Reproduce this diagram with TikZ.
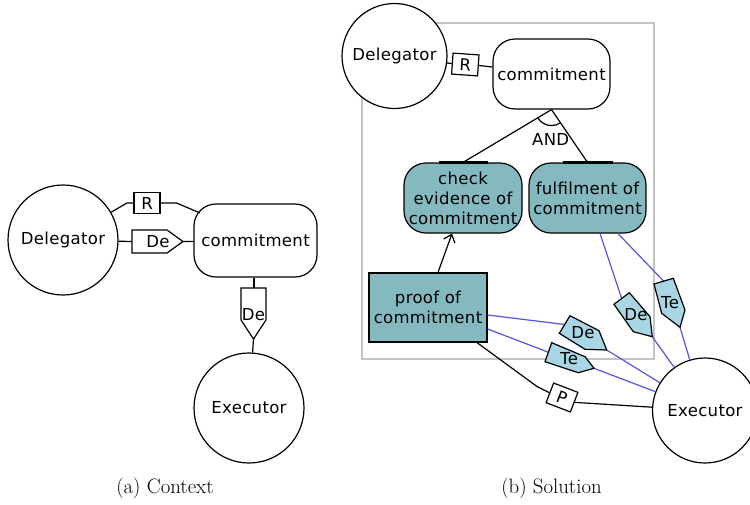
\documentclass[tikz,border=0pt]{standalone}
\usepackage{fontspec}
\newfontfamily\dv[LetterSpace=2]{DejaVu Sans}
\usetikzlibrary{arrows.meta,calc}
\definecolor{tealfill}{RGB}{132,186,191}
\definecolor{pentfill}{RGB}{168,214,228}
\definecolor{bluline}{RGB}{85,85,225}
\definecolor{framegray}{RGB}{195,195,195}
\begin{document}
\begin{tikzpicture}[x=1pt,y=-1pt,
  actor/.style={circle,draw,fill=white,line width=1.2pt,minimum size=110pt,inner sep=0pt,font=\dv\fontsize{16.5}{19}\selectfont},
  actorb/.style={actor,minimum size=105pt},
  goal/.style={rectangle,rounded corners=22pt,draw,fill=white,line width=1.2pt,inner sep=0pt,align=center,font=\dv\fontsize{16.5}{20}\selectfont},
  task/.style={rectangle,draw,fill=tealfill,line width=1.2pt,inner sep=0pt,align=center,font=\dv\fontsize{16.5}{20}\selectfont},
  rbox/.style={rectangle,draw,fill=white,line width=1.2pt,inner sep=0pt,minimum width=26pt,minimum height=21pt,font=\dv\fontsize{16.5}{18}\selectfont},
  lab/.style={inner sep=0pt,font=\dv\fontsize{16.5}{18}\selectfont},
  penta/.style={draw,fill=white,line width=1.2pt},
  pentb/.style={draw,fill=pentfill,line width=1.2pt},
  link/.style={draw,line width=1.2pt},
  blink/.style={draw=bluline,line width=1.2pt},
  captext/.style={inner sep=0pt,font=\fontsize{20.8}{25}\selectfont}
]
\useasboundingbox (0,0) rectangle (750,504);

% ---------------- (a) Context ----------------
\node[actor] (DelA) at (63,240) {Delegator};
\node[goal,minimum width=123pt,minimum height=73pt] (CommA) at (255.5,240.5) {commitment};
\node[actor] (ExA) at (249,408) {Executor};
\node[rbox] (Ra) at (147,203) {R};

\draw[link] (DelA.30) -- (127,203) -- (Ra.west);
\draw[link] (Ra.east) -- (176.5,203) -- ($(CommA.north west)+(6.5,9.5)$);

% horizontal De
\coordinate (DeAin) at (132,241.5);
\coordinate (DeAtip) at (183,241.5);
\draw[link] (DelA) -- (DeAin);
\draw[link] (DeAtip) -- (CommA);
\draw[penta] (132,230) -- (167,230) -- (DeAtip) -- (167,253) -- (132,253) -- cycle;
\node[lab] (DeAl) at (158,241.5) {De};

% vertical De
\coordinate (DeVin) at (254,288);
\coordinate (DeVtip) at (253.5,339);
\draw[link] (CommA.south -| DeVin) -- (DeVin);
\draw[link] (DeVtip) -- (ExA);
\draw[penta] (241,288) -- (266,288) -- (266,320) -- (DeVtip) -- (241,320) -- cycle;
\node[lab] (DeVl) at (253.5,315) {De};

\node[captext] (capA) at (165,488) {(a) Context};

% ---------------- (b) Solution ----------------
\draw[draw=framegray,line width=1.3pt] (362,23) rectangle (654,359);

\node[actorb] (DelB) at (394.5,56) {Delegator};
\node[goal,minimum width=117pt,minimum height=70pt] (CommB) at (551.5,74) {commitment};
\node[rbox,rotate=-4] (Rb) at (465.3,64.5) {R};
\draw[link] (DelB) -- (Rb.west);
\draw[link] (Rb.east) -- (CommB);

\node[goal,fill=tealfill,minimum width=118pt,minimum height=70pt] (Check) at (463,198) {check\\evidence of\\commitment};
\node[goal,fill=tealfill,minimum width=117pt,minimum height=70pt] (Fulfil) at (587.5,198) {fulfilment of\\commitment};
\node[task,minimum width=118pt,minimum height=69pt] (Proof) at (428,307.5) {proof of\\commitment};
\node[actorb] (ExB) at (705,410.5) {Executor};

% AND decomposition
\draw[link] (CommB.south) -- (Check.north);
\draw[link] (CommB.south) -- (Fulfil.north);
\draw[link] ([shift={(210.8:16pt)}]CommB.south) arc[start angle=210.8,end angle=304.8,radius=16pt];
\node[lab] (andl) at (550.7,139) {AND};
\draw[line width=2.5pt] ([xshift=-24.5pt]Check.north) -- ([xshift=24.5pt]Check.north);
\draw[line width=2.5pt] ([xshift=-25pt]Fulfil.north) -- ([xshift=25pt]Fulfil.north);

% means-end arrow
\draw[link,-{Straight Barb[length=7pt,width=12pt]}] ([xshift=10pt]Proof.north) -- ([xshift=-11pt]Check.south);

% contribution links
\coordinate (DeFin) at (621.7,298.5);
\coordinate (DeFtip) at (652.3,336.7);
\coordinate (TeFin) at (663.7,281.2);
\coordinate (TeFtip) at (680,327.3);
\coordinate (DePin) at (564.7,324.5);
\coordinate (DePtip) at (606.7,350);
\coordinate (TePin) at (548.3,352.2);
\coordinate (TePtip) at (594,368.3);

\draw[blink] ([xshift=12.5pt]Fulfil.south) -- (DeFin);
\draw[blink] (DeFtip) -- (ExB);
\draw[blink] ([xshift=30.5pt]Fulfil.south) -- (TeFin);
\draw[blink] (TeFtip) -- (ExB);
\draw[blink] ([yshift=-7.5pt]Proof.east) -- (DePin);
\draw[blink] (DePtip) -- (ExB);
\draw[blink] ([yshift=-21.5pt]Proof.east) -- (TePin);
\draw[blink] (TePtip) -- (ExB);

\draw[pentb] (614,304.3) -- (629.3,292.7) -- (650,316.7) -- (DeFtip) -- (633.3,331.7) -- cycle;
\node[lab] (DeFl) at (636,315) {De};
\draw[pentb] (654,284) -- (673.3,278.3) -- (685,310) -- (TeFtip) -- (661.7,313.3) -- cycle;
\node[lab] (TeFl) at (670,303) {Te};
\draw[pentb] (559.3,333.3) -- (570,315.7) -- (599,330.7) -- (DePtip) -- (585,349.3) -- cycle;
\node[lab] (DePl) at (583,333) {De};
\draw[pentb] (545,361.7) -- (551.7,342.7) -- (585,356.7) -- (TePtip) -- (578.3,372.7) -- cycle;
\node[lab] (TePl) at (569,359) {Te};

% P link
\node[rbox,rotate=-21] (Pb) at (562,397.5) {P};
\draw[link] ([xshift=49pt]Proof.south) -- (537,386.5) -- (Pb.west);
\draw[link] (Pb.east) -- (ExB);

\node[captext] (capB) at (551.5,488) {(b) Solution};
\end{tikzpicture}
\end{document}
